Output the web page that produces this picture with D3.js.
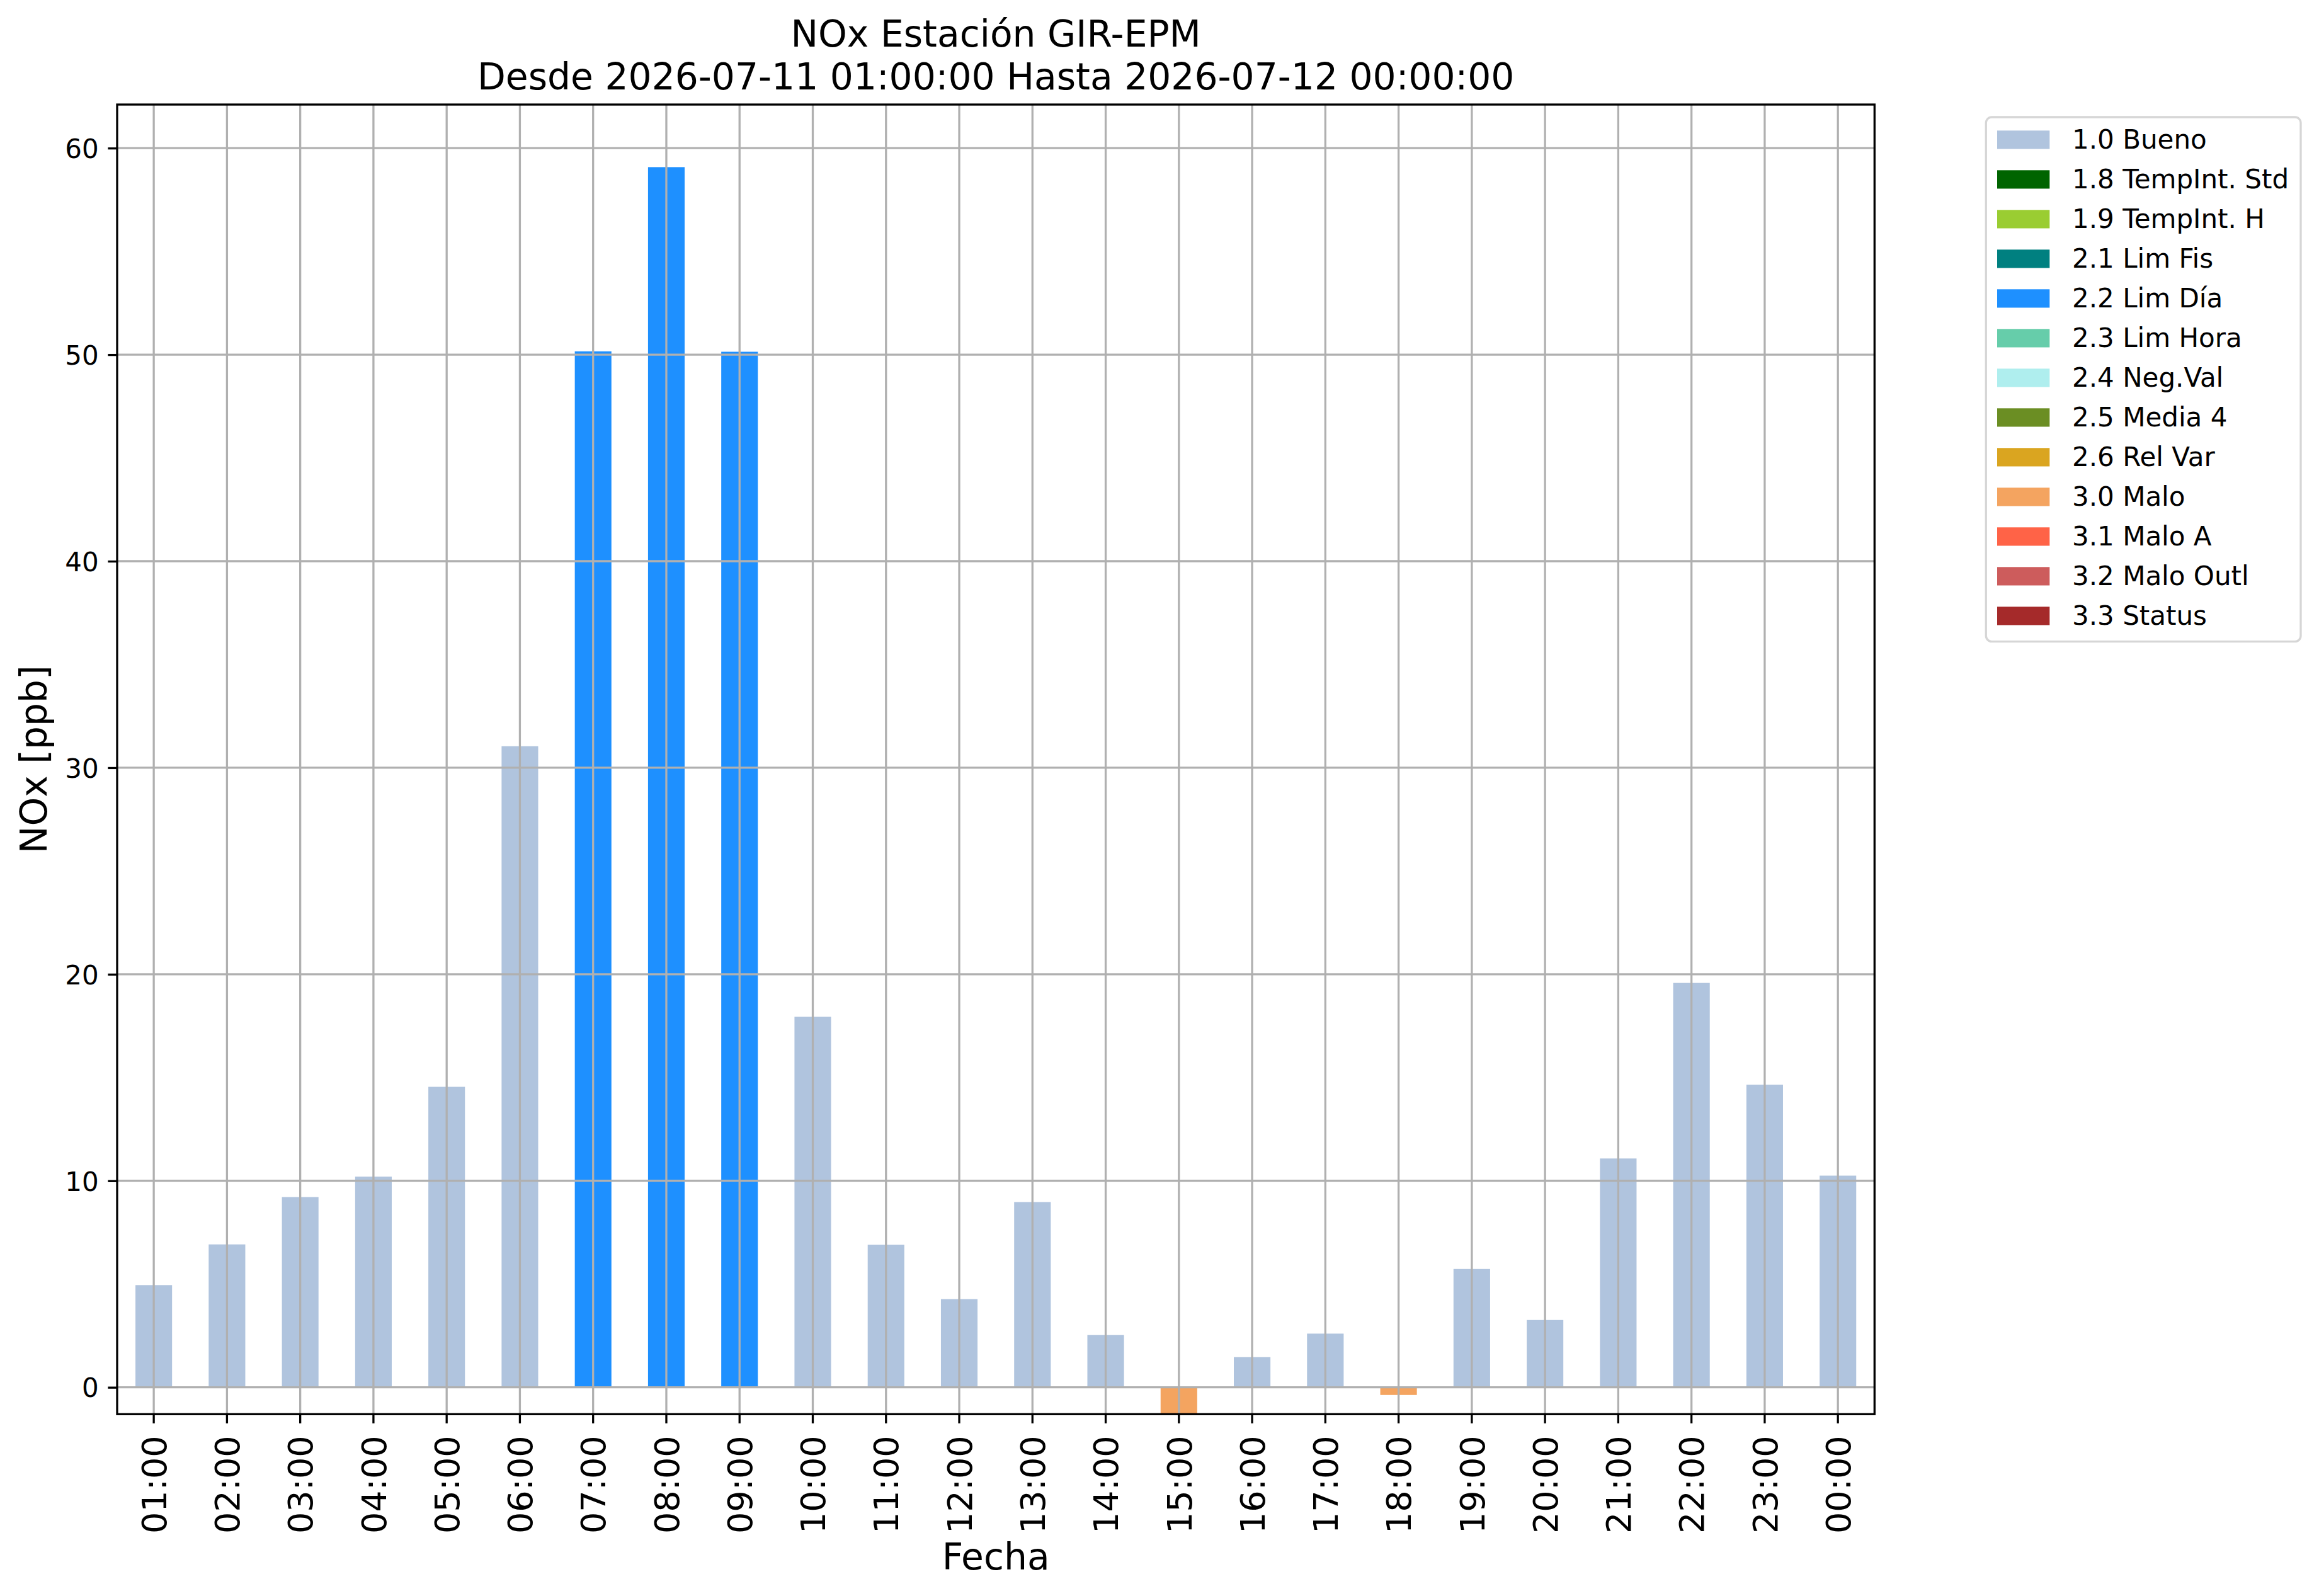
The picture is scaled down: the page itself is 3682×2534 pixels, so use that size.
<!DOCTYPE html>
<html>
<head>
<meta charset="utf-8">
<script src="https://cdn.jsdelivr.net/npm/d3@7"></script>
<style>
    html, body { margin: 0; padding: 0; background: #ffffff; }
    text { font-family: "DejaVu Sans", sans-serif; fill: #000000; }
</style>
</head>
<body>
<div id="chart"></div>
<script>
// ============================================================
// Data
// ============================================================
var hours = ["01:00", "02:00", "03:00", "04:00", "05:00", "06:00", "07:00", "08:00",
             "09:00", "10:00", "11:00", "12:00", "13:00", "14:00", "15:00", "16:00",
             "17:00", "18:00", "19:00", "20:00", "21:00", "22:00", "23:00", "00:00"];
var noxValues = [4.95, 6.92, 9.21, 10.20, 14.55, 31.04, 50.16, 59.08,
                 50.14, 17.94, 6.90, 4.27, 8.97, 2.53, -1.30, 1.46,
                 2.60, -0.37, 5.73, 3.26, 11.08, 19.58, 14.65, 10.25];
var hourFlags = ["1.0 Bueno", "1.0 Bueno", "1.0 Bueno", "1.0 Bueno", "1.0 Bueno", "1.0 Bueno",
                 "2.2 Lim Día", "2.2 Lim Día", "2.2 Lim Día", "1.0 Bueno", "1.0 Bueno", "1.0 Bueno",
                 "1.0 Bueno", "1.0 Bueno", "3.0 Malo", "1.0 Bueno", "1.0 Bueno", "3.0 Malo",
                 "1.0 Bueno", "1.0 Bueno", "1.0 Bueno", "1.0 Bueno", "1.0 Bueno", "1.0 Bueno"];
var flagNames = ["1.0 Bueno", "1.8 TempInt. Std", "1.9 TempInt. H", "2.1 Lim Fis", "2.2 Lim Día",
                 "2.3 Lim Hora", "2.4 Neg.Val", "2.5 Media 4", "2.6 Rel Var", "3.0 Malo",
                 "3.1 Malo A", "3.2 Malo Outl", "3.3 Status"];
var flagColors = ["lightsteelblue", "darkgreen", "yellowgreen", "teal", "dodgerblue",
                  "mediumaquamarine", "paleturquoise", "olivedrab", "goldenrod", "sandybrown",
                  "tomato", "indianred", "brown"];
var yTicks = [0, 10, 20, 30, 40, 50, 60];
var yDomain = [-1.30, 62.11];

// ============================================================
// Layout
// ============================================================
var W = 3682, H = 2534;
var pLeft = 186, pRight = 2976.3, pTop = 166, pBottom = 2245.3;
var lw = 3.3, tickLen = 14.6;
var bigFont = 58.3;

var svg = d3.select("#chart").append("svg")
    .attr("width", W)
    .attr("height", H);

var x = d3.scaleBand()
    .domain(hours)
    .range([pLeft, pRight])
    .paddingInner(0.5)
    .paddingOuter(0.25);
var y = d3.scaleLinear()
    .domain(yDomain)
    .range([pBottom, pTop]);
var color = d3.scaleOrdinal()
    .domain(flagNames)
    .range(flagColors);

var bars = hours.map(function (h, i) {
    return { hour: h, value: noxValues[i], flag: hourFlags[i] };
});

// ============================================================
// Bars
// ============================================================
svg.append("clipPath").attr("id", "plotClip")
    .append("rect")
    .attr("x", pLeft).attr("y", pTop)
    .attr("width", pRight - pLeft).attr("height", pBottom - pTop);

svg.append("g")
    .attr("clip-path", "url(#plotClip)")
    .selectAll("rect")
    .data(bars)
    .enter()
    .append("rect")
    .attr("x", function (d) { return x(d.hour); })
    .attr("y", function (d) { return y(Math.max(0, d.value)); })
    .attr("width", x.bandwidth())
    .attr("height", function (d) { return Math.abs(y(d.value) - y(0)); })
    .style("fill", function (d) { return color(d.flag); });

// ============================================================
// Grid (drawn above the bars, like the original)
// ============================================================
var grid = svg.append("g")
    .attr("stroke", "#b0b0b0")
    .attr("stroke-width", lw);
grid.selectAll("line.gx")
    .data(hours)
    .enter()
    .append("line")
    .attr("x1", function (d) { return x(d) + x.bandwidth() / 2; })
    .attr("x2", function (d) { return x(d) + x.bandwidth() / 2; })
    .attr("y1", pTop).attr("y2", pBottom);
grid.selectAll("line.gy")
    .data(yTicks)
    .enter()
    .append("line")
    .attr("x1", pLeft).attr("x2", pRight)
    .attr("y1", function (d) { return y(d); })
    .attr("y2", function (d) { return y(d); });

// ============================================================
// Axes
// ============================================================
var xAxis = svg.append("g")
    .attr("transform", "translate(0," + pBottom + ")")
    .call(d3.axisBottom(x).tickSize(tickLen).tickSizeOuter(0).tickPadding(0));
xAxis.select(".domain").remove();
xAxis.selectAll(".tick line").attr("stroke", "#000").attr("stroke-width", lw);
xAxis.selectAll(".tick text")
    .attr("font-size", 54)
    .attr("text-anchor", "end")
    .attr("transform", "translate(19.7," + (tickLen + 19.5) + ") rotate(-90)")
    .attr("x", 0).attr("y", 0).attr("dy", null);

var yAxis = svg.append("g")
    .attr("transform", "translate(" + pLeft + ",0)")
    .call(d3.axisLeft(y).tickValues(yTicks).tickSize(tickLen).tickSizeOuter(0).tickPadding(tickLen + 0.2));
yAxis.select(".domain").remove();
yAxis.selectAll(".tick line").attr("stroke", "#000").attr("stroke-width", lw);
yAxis.selectAll(".tick text")
    .attr("font-size", 42)
    .attr("dy", 15.3);

svg.append("rect")
    .attr("x", pLeft).attr("y", pTop)
    .attr("width", pRight - pLeft).attr("height", pBottom - pTop)
    .attr("fill", "none")
    .attr("stroke", "#000")
    .attr("stroke-width", lw);

// ============================================================
// Titles
// ============================================================
var cx = (pLeft + pRight) / 2;
svg.append("text").attr("x", cx).attr("y", 74)
    .attr("text-anchor", "middle").attr("font-size", bigFont)
    .text("NOx Estación GIR-EPM");
svg.append("text").attr("x", cx).attr("y", 141.7)
    .attr("text-anchor", "middle").attr("font-size", bigFont)
    .text("Desde 2026-07-11 01:00:00 Hasta 2026-07-12 00:00:00");
svg.append("text").attr("x", cx).attr("y", 2491.7)
    .attr("text-anchor", "middle").attr("font-size", bigFont)
    .text("Fecha");
svg.append("text")
    .attr("transform", "translate(74," + ((pTop + pBottom) / 2) + ") rotate(-90)")
    .attr("text-anchor", "middle").attr("font-size", bigFont)
    .text("NOx [ppb]");

// ============================================================
// Legend
// ============================================================
var legend = svg.append("g");
legend.append("rect")
    .attr("x", 3153.3).attr("y", 186)
    .attr("width", 499.7).attr("height", 832.6)
    .attr("rx", 9).attr("ry", 9)
    .attr("fill", "#ffffff")
    .attr("stroke", "#d6d6d6")
    .attr("stroke-width", 3.3);
var rowH = 63;
var items = legend.selectAll("g.item")
    .data(flagNames)
    .enter()
    .append("g")
    .attr("transform", function (d, i) { return "translate(0," + (207.3 + i * rowH) + ")"; });
items.append("rect")
    .attr("x", 3171).attr("y", 0)
    .attr("width", 83.3).attr("height", 29.2)
    .style("fill", function (d) { return color(d); });
items.append("text")
    .attr("x", 3290).attr("y", 29.1)
    .attr("font-size", 42)
    .text(function (d) { return d; });
</script>
</body>
</html>
